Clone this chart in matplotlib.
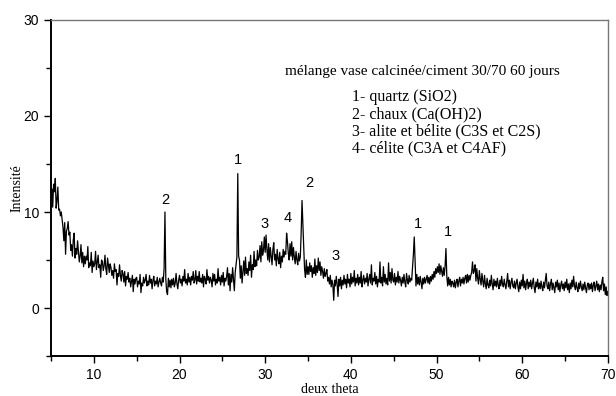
import numpy as np
import matplotlib
matplotlib.use("Agg")
import matplotlib.pyplot as plt
from matplotlib.ticker import MultipleLocator

# two-theta from 5.0 to 70.0, step 0.1
x_start, x_step = 5.0, 0.1
intensity_rows = [
    [11.6, 12.4, 10.5, 12.9, 12.1, 13.5, 10.4, 11.2, 12.6, 10.2],  # 5
    [10.3, 9.6, 10.0, 9.2, 8.4, 7.0, 8.9, 5.6, 8.0, 8.3],          # 6
    [9.0, 7.6, 7.9, 6.0, 6.6, 5.4, 7.1, 7.8, 5.2, 6.2],            # 7
    [5.6, 7.0, 5.9, 4.8, 5.4, 6.6, 4.7, 5.8, 4.3, 5.4],            # 8
    [4.6, 5.4, 5.0, 6.4, 4.2, 4.7, 4.4, 5.8, 3.7, 4.9],            # 9
    [4.3, 4.6, 5.9, 4.0, 4.8, 5.5, 4.2, 4.5, 3.2, 5.0],            # 10
    [4.8, 3.9, 4.4, 5.5, 4.1, 3.5, 5.2, 4.4, 3.7, 4.6],            # 11
    [4.2, 3.4, 3.9, 3.1, 4.6, 3.8, 4.0, 2.4, 3.6, 3.3],            # 12
    [4.5, 3.4, 2.8, 3.9, 3.6, 2.7, 3.8, 2.3, 3.3, 3.0],            # 13
    [3.7, 2.7, 3.1, 2.2, 2.8, 3.4, 1.7, 3.0, 2.5, 3.1],            # 14
    [3.2, 2.2, 2.8, 2.5, 3.5, 1.6, 2.6, 2.3, 3.2, 2.6],            # 15
    [2.9, 3.5, 2.3, 2.8, 2.4, 3.4, 2.6, 3.0, 2.0, 2.9],            # 16
    [3.3, 2.3, 2.8, 2.5, 3.2, 2.2, 2.7, 3.1, 2.6, 2.3],            # 17
    [3.2, 2.7, 4.1, 10.0, 3.0, 1.7, 1.4, 3.1, 2.2, 2.9],           # 18
    [2.1, 3.0, 2.4, 3.1, 2.2, 2.6, 3.6, 2.5, 2.0, 2.9],            # 19
    [3.4, 2.6, 3.0, 2.3, 3.3, 2.8, 4.0, 2.6, 3.0, 2.4],            # 20
    [3.6, 2.7, 3.2, 2.4, 3.3, 2.9, 3.8, 2.6, 2.9, 3.9],            # 21
    [2.5, 3.3, 2.8, 3.8, 2.7, 3.1, 2.6, 3.5, 2.2, 3.3],            # 22
    [3.0, 2.5, 4.0, 2.9, 3.3, 2.6, 3.2, 2.9, 2.2, 3.6],            # 23
    [2.8, 3.5, 2.4, 3.0, 2.6, 4.1, 2.8, 3.2, 2.4, 3.4],            # 24
    [2.7, 3.7, 2.3, 3.1, 2.8, 3.3, 4.2, 2.4, 3.6, 1.8],            # 25
    [3.5, 2.7, 4.2, 3.0, 1.8, 3.7, 4.5, 5.3, 14.0, 5.4],           # 26
    [5.0, 3.1, 4.4, 2.6, 3.8, 4.9, 3.4, 5.3, 3.6, 4.1],            # 27
    [3.4, 4.8, 3.9, 5.5, 3.2, 4.5, 4.0, 5.9, 4.3, 5.0],            # 28
    [4.4, 6.0, 5.0, 5.3, 6.5, 4.8, 6.9, 5.5, 6.0, 7.4],            # 29
    [5.8, 7.6, 6.1, 5.0, 6.7, 4.8, 6.3, 5.4, 4.5, 6.1],            # 30
    [6.8, 5.0, 5.6, 4.4, 6.1, 5.1, 4.6, 5.8, 4.2, 5.4],            # 31
    [4.8, 6.1, 5.3, 5.9, 5.6, 7.8, 6.9, 5.7, 5.0, 6.7],            # 32
    [5.4, 6.9, 5.0, 6.3, 5.3, 4.6, 5.9, 5.0, 4.5, 5.7],            # 33
    [4.9, 5.3, 7.8, 11.2, 8.6, 6.3, 4.0, 3.2, 5.0, 3.5],           # 34
    [4.3, 3.5, 4.7, 3.8, 4.4, 3.2, 4.2, 3.6, 5.1, 3.4],            # 35
    [4.4, 3.7, 5.2, 3.9, 4.8, 3.4, 4.3, 3.8, 3.1, 4.1],            # 36
    [3.3, 3.6, 4.0, 2.8, 3.2, 2.5, 3.4, 2.2, 2.9, 2.4],            # 37
    [0.8, 2.9, 2.3, 3.3, 2.5, 1.2, 3.0, 2.3, 3.2, 2.0],            # 38
    [2.9, 2.4, 3.4, 2.5, 3.0, 2.1, 3.5, 2.6, 3.0, 2.2],            # 39
    [3.6, 2.5, 3.2, 2.7, 3.9, 2.3, 3.1, 2.6, 3.5, 2.4],            # 40
    [3.2, 2.6, 3.8, 2.2, 2.9, 3.4, 2.5, 3.1, 2.7, 3.6],            # 41
    [2.3, 3.0, 3.5, 2.6, 4.5, 2.4, 3.1, 2.8, 3.7, 2.5],            # 42
    [3.3, 2.2, 3.0, 2.7, 4.8, 2.6, 3.2, 2.3, 4.3, 2.7],            # 43
    [3.5, 2.5, 3.1, 2.4, 4.7, 2.8, 3.7, 2.6, 4.1, 2.9],            # 44
    [2.7, 3.6, 2.4, 3.2, 2.7, 3.8, 2.6, 3.3, 2.9, 2.3],            # 45
    [3.2, 2.6, 3.5, 2.7, 2.2, 3.6, 2.9, 2.5, 3.4, 2.7],            # 46
    [3.1, 2.9, 4.2, 5.6, 7.4, 5.0, 2.3, 3.5, 2.5, 3.2],            # 47
    [2.4, 3.3, 2.7, 2.0, 3.1, 2.5, 3.2, 2.6, 3.0, 3.4],            # 48
    [2.6, 3.2, 2.5, 3.3, 2.8, 3.5, 3.0, 3.8, 3.2, 4.1],            # 49
    [3.6, 4.3, 3.7, 4.6, 3.5, 4.4, 3.8, 3.3, 4.2, 3.4],            # 50
    [4.4, 6.2, 3.3, 2.3, 3.2, 2.4, 3.0, 2.2, 2.8, 2.6],            # 51
    [2.2, 2.9, 2.1, 2.7, 3.0, 2.2, 2.8, 3.2, 2.3, 3.0],            # 52
    [2.6, 3.2, 2.5, 3.1, 3.4, 2.6, 3.5, 2.7, 3.4, 2.9],            # 53
    [3.4, 3.7, 4.8, 3.6, 3.9, 4.5, 2.8, 4.1, 3.1, 2.5],            # 54
    [3.9, 3.0, 2.4, 3.6, 2.8, 2.2, 3.4, 2.5, 2.0, 3.1],            # 55
    [2.4, 2.1, 2.9, 2.3, 3.4, 2.5, 1.9, 3.0, 2.3, 2.8],            # 56
    [2.2, 3.1, 2.4, 2.0, 2.9, 2.3, 3.3, 2.5, 2.2, 3.0],            # 57
    [2.4, 2.0, 2.8, 3.6, 2.2, 2.9, 2.0, 2.7, 3.1, 2.3],            # 58
    [2.1, 2.8, 2.0, 2.6, 3.0, 2.2, 1.7, 2.7, 2.0, 2.9],            # 59
    [2.3, 3.5, 2.1, 2.8, 1.9, 2.6, 3.0, 2.0, 2.7, 2.2],            # 60
    [2.9, 2.0, 2.6, 3.1, 2.1, 1.6, 2.7, 2.2, 3.0, 2.0],            # 61
    [2.6, 2.0, 2.8, 2.2, 1.8, 2.7, 2.1, 2.9, 3.6, 2.3],            # 62
    [2.0, 2.7, 1.8, 2.5, 3.0, 1.9, 2.6, 2.1, 1.6, 2.7],            # 63
    [2.2, 2.9, 1.9, 2.6, 1.7, 2.4, 2.8, 2.0, 2.5, 1.8],            # 64
    [2.7, 2.1, 3.0, 1.9, 2.5, 1.6, 2.6, 2.0, 2.9, 2.2],            # 65
    [3.3, 2.3, 1.9, 2.7, 2.1, 1.7, 2.6, 2.0, 2.8, 2.2],            # 66
    [1.8, 2.5, 1.9, 2.7, 2.1, 1.6, 2.4, 2.6, 1.9, 2.5],            # 67
    [2.0, 2.6, 1.7, 2.4, 2.7, 1.8, 2.3, 2.8, 1.9, 2.5],            # 68
    [1.7, 2.4, 1.9, 2.7, 3.2, 1.8, 2.5, 1.4, 2.2, 1.3],            # 69
    [1.7],                                                          # 70
]

peak_labels = ["2", "1", "3", "4", "2", "3", "1", "1"]
peak_label_x = [18.4, 26.8, 29.9, 32.6, 35.2, 38.2, 47.8, 51.3]
peak_label_y = [11.2, 15.4, 8.8, 9.4, 13.0, 5.4, 8.7, 7.9]

title_text = "mélange vase calcinée/ciment 30/70 60 jours"
legend_lines = [
    "1- quartz (SiO2)",
    "2- chaux (Ca(OH)2)",
    "3- alite et bélite (C3S et C2S)",
    "4- célite (C3A et C4AF)",
]

intensity = np.array([v for row in intensity_rows for v in row])
two_theta = x_start + x_step * np.arange(len(intensity))

fig = plt.figure(figsize=(6.16, 3.96), dpi=100)
ax = fig.add_axes([0.0828, 0.101, 0.904, 0.8485])
ax.plot(two_theta, intensity, color="black", lw=0.9)

ax.set_xlim(5, 70)
ax.set_ylim(-5, 30)
ax.xaxis.set_major_locator(MultipleLocator(10))
ax.xaxis.set_minor_locator(MultipleLocator(5))
ax.yaxis.set_major_locator(MultipleLocator(10))
ax.yaxis.set_minor_locator(MultipleLocator(5))
ax.tick_params(which="both", direction="out", top=False, right=False,
               width=1.0, labelsize=10)
ax.tick_params(which="major", length=5)
ax.tick_params(which="minor", length=3.5)
for lab in ax.get_xticklabels() + ax.get_yticklabels():
    lab.set_fontfamily("Liberation Sans")

for s in ["left", "bottom"]:
    ax.spines[s].set_color("black")
    ax.spines[s].set_linewidth(1.4)
for s in ["top", "right"]:
    ax.spines[s].set_color("#777777")
    ax.spines[s].set_linewidth(1.0)

ax.set_xlabel("deux theta", family="Liberation Serif", fontsize=10, labelpad=1)
ax.set_ylabel("Intensité", family="Liberation Serif", fontsize=10, labelpad=0)

for t, px, py in zip(peak_labels, peak_label_x, peak_label_y):
    ax.text(px, py, t, ha="center", va="center", fontsize=10.5,
            family="Liberation Sans")

ax.text(0.421, 0.847, title_text, transform=ax.transAxes, ha="left",
        va="center", family="Liberation Serif", fontsize=11)
for i, line in enumerate(legend_lines):
    ax.text(0.541, 0.772 - i * 0.0515, line, transform=ax.transAxes,
            ha="left", va="center", family="Liberation Serif", fontsize=11.5)

fig.savefig("out.png", dpi=100)
